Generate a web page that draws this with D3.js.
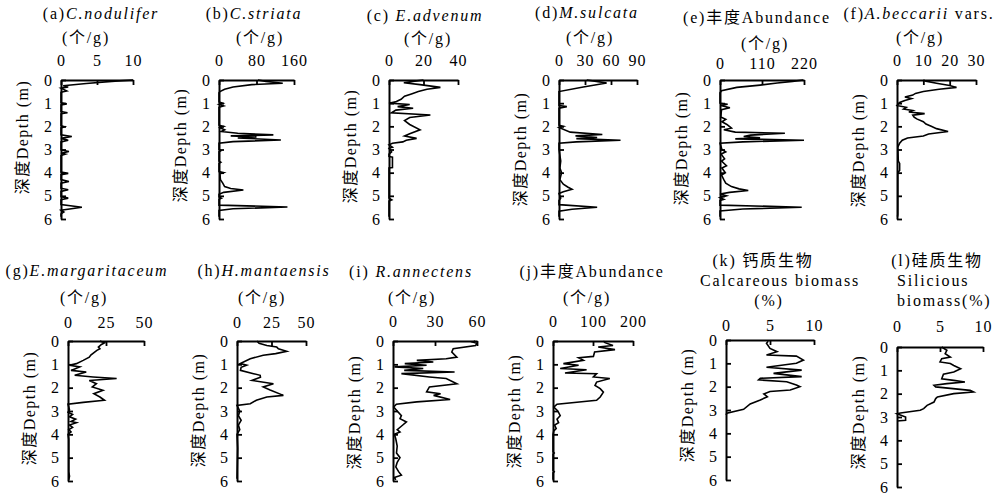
<!DOCTYPE html>
<html>
<head>
<meta charset="utf-8">
<script src="https://cdn.jsdelivr.net/npm/d3@7"></script>
<style>
body { margin: 0; background: #fff; }
</style>
</head>
<body>
<svg width="999" height="497"></svg>
<script>
// depth (m), value
var nodulifer = [[0,10],[0.05,7.5],[0.15,3.5],[0.25,0.3],[0.3,1.0],[0.35,0],[0.47,0.8],[0.53,0],[0.98,0],[1.03,0.8],[1.08,0],[1.36,0],[1.41,0.9],[1.46,0],[1.97,0],[2.02,0.5],[2.07,0],[2.37,0],[2.44,1.5],[2.52,0],[2.6,1.0],[2.67,0],[3.02,0],[3.09,1.1],[3.16,0],[3.2,0.6],[3.26,0],[3.97,0],[4.03,1.0],[4.09,0],[4.3,0],[4.38,1.1],[4.45,0],[4.67,0],[4.74,1.0],[4.81,0],[5.03,0],[5.1,1.0],[5.17,0],[5.38,0],[5.49,2.9],[5.62,0],[5.7,0.4],[5.78,0],[5.9,0]];
var striata = [[0,83],[0.06,100],[0.14,136],[0.2,70],[0.3,30],[0.4,12],[0.5,2],[0.55,0],[0.95,0],[1.0,8],[1.05,0],[1.12,10],[1.18,0],[1.95,0],[2.0,10],[2.06,2],[2.15,12],[2.22,5],[2.3,40],[2.37,116],[2.41,25],[2.46,80],[2.5,40],[2.59,132],[2.66,30],[2.73,0],[3.0,0],[3.05,4],[3.1,0],[3.5,0],[3.55,4],[3.6,0],[3.95,0],[4.0,10],[4.05,2],[4.3,3],[4.45,8],[4.6,12],[4.68,25],[4.75,52],[4.85,10],[4.93,0],[5.05,0],[5.1,5],[5.15,0],[5.4,0],[5.48,146],[5.56,30],[5.63,0],[5.9,0]];
var advenum = [[0,20],[0.05,15],[0.12,8.6],[0.2,18],[0.32,29.8],[0.4,22],[0.5,17],[0.6,13],[0.7,9],[0.83,7],[0.93,4.3],[1.0,0],[1.06,12],[1.15,5],[1.22,14],[1.3,4],[1.42,1.4],[1.51,24],[1.62,12],[1.75,9],[1.92,12],[2.15,18],[2.32,12],[2.42,9],[2.52,16],[2.6,10],[2.67,8],[2.73,2],[2.8,0],[2.9,2],[2.95,0],[3.1,1.5],[3.2,0],[3.3,0],[3.33,2],[3.78,2],[3.8,0],[5.1,0],[5.17,1.6],[5.22,0],[5.9,0]];
var sulcata = [[0,32],[0.07,45],[0.13,55],[0.3,28],[0.5,0],[1.1,0],[1.15,9],[1.22,0],[1.95,0],[2.0,5],[2.05,0],[2.25,13],[2.35,50],[2.41,19],[2.48,44],[2.53,20],[2.6,71],[2.67,20],[2.73,0],[3.0,0],[3.5,2],[3.8,1],[4.0,3],[4.3,1],[4.5,5],[4.62,10],[4.72,15],[4.82,5],[4.9,0],[5.1,2],[5.2,0],[5.38,0],[5.49,44],[5.58,15],[5.66,0],[5.9,0]];
var abundance1 = [[0,218],[0.06,190],[0.13,150],[0.22,105],[0.32,44],[0.46,4],[0.55,0],[1.0,0],[1.05,20],[1.1,2],[1.2,26],[1.28,4],[1.6,2],[1.7,15],[1.8,5],[1.92,18],[2.08,30],[2.15,10],[2.25,40],[2.3,170],[2.38,80],[2.44,62],[2.5,105],[2.54,40],[2.6,220],[2.67,60],[2.73,0],[3.0,5],[3.1,15],[3.2,3],[3.4,12],[3.5,4],[3.7,17],[3.8,5],[4.0,14],[4.1,4],[4.3,10],[4.45,15],[4.6,30],[4.7,50],[4.77,74],[4.85,25],[4.92,0],[5.0,17],[5.08,0],[5.15,10],[5.2,0],[5.4,0],[5.49,214],[5.57,60],[5.65,0],[5.9,0]];
var beccarii = [[0,10],[0.05,11],[0.14,15],[0.24,20],[0.32,22.6],[0.4,16],[0.5,10],[0.58,7],[0.65,6],[0.73,3],[0.8,5.5],[0.88,3],[0.97,1],[1.1,0],[1.18,3.5],[1.25,2.5],[1.32,6],[1.38,4.5],[1.45,10.5],[1.52,6],[1.6,6.5],[1.68,7.5],[1.8,10],[1.9,11],[2.0,13],[2.1,15],[2.22,19.4],[2.33,12],[2.42,10],[2.5,4],[2.6,2],[2.73,1],[2.9,0.3],[3.5,0.5],[3.6,1],[3.9,1],[4.0,0.3],[5.8,0.3],[5.9,0.2]];
var margaritaceum = [[0,21],[0.08,24],[0.15,22],[0.26,20],[0.33,21],[0.4,19],[0.6,15],[0.69,14],[0.83,10],[0.97,5.5],[1.04,1],[1.11,7.7],[1.26,2],[1.33,12],[1.47,4.4],[1.54,16.5],[1.61,32],[1.69,14],[1.83,18.7],[1.97,16],[2.11,23],[2.26,17],[2.4,21],[2.54,24],[2.63,10],[2.71,0],[2.95,1],[3.05,0],[3.15,3],[3.25,1],[3.35,5],[3.45,2],[3.5,5.5],[3.6,1],[3.7,3],[3.8,0.5],[3.9,2],[4.0,0],[4.2,0.5],[5.6,0.5],[5.8,1],[5.95,0.5]];
var mantaensis = [[0,14.4],[0.1,16],[0.19,21.6],[0.26,28.8],[0.33,30],[0.44,36],[0.54,28],[0.61,19],[0.76,9.6],[0.97,2.4],[1.04,7],[1.13,3],[1.26,2.5],[1.4,12],[1.47,16.8],[1.55,17],[1.69,10.8],[1.83,26.4],[1.97,19],[2.1,24],[2.33,33.6],[2.4,21.6],[2.54,14],[2.69,9.6],[2.76,0],[3.0,2],[3.2,1],[3.4,3],[3.6,1],[3.8,2],[4.0,0],[4.6,0.5],[5.9,0]];
var annectens = [[0,58.8],[0.05,57],[0.1,60],[0.19,59],[0.33,43],[0.47,42],[0.69,45.6],[0.76,38],[0.83,17],[0.9,28.8],[0.97,8.4],[1.04,24],[1.11,1],[1.18,21.6],[1.26,8],[1.33,44],[1.4,6],[1.54,26],[1.61,38],[1.83,45.6],[1.97,26],[2.18,24],[2.26,34],[2.33,29],[2.51,40.8],[2.61,17],[2.71,2.4],[2.83,0.5],[3.0,3],[3.2,6],[3.33,5],[3.47,9.6],[3.6,7],[3.8,3],[3.9,5],[4.0,1],[4.2,2],[4.5,3],[4.8,2.5],[5.0,5],[5.2,3],[5.4,2],[5.6,4],[5.75,6],[5.85,1],[5.95,2]];
var abundance2 = [[0,126],[0.07,130],[0.19,150],[0.26,113],[0.37,155],[0.47,104],[0.66,101],[0.72,64],[0.83,76],[0.97,26],[1.04,64],[1.18,18],[1.23,84],[1.37,30],[1.4,109],[1.54,101],[1.61,142],[1.76,109],[1.9,105],[2.04,118],[2.19,126],[2.4,118],[2.54,109],[2.71,10],[2.83,2],[3.0,12],[3.2,18],[3.35,10],[3.5,14],[3.6,4],[3.75,8],[3.85,2],[4.0,0],[4.75,0],[4.8,3],[4.85,0],[5.55,0],[5.6,3],[5.65,0],[5.95,0]];
var calcareous = [[0.05,4.8],[0.14,4.6],[0.36,5],[0.5,5.8],[0.64,4.6],[0.69,8],[0.86,8.8],[1.0,8],[1.17,4.6],[1.29,8.6],[1.43,5.4],[1.57,8.6],[1.64,3.9],[1.71,3.7],[1.79,6.9],[1.93,8],[2.0,8.4],[2.14,7.3],[2.21,5],[2.31,4.3],[2.43,4.7],[2.57,3.9],[2.74,2.75],[2.97,2],[3.14,0.1],[3.21,0]];
var silicious = [[0,5.2],[0.14,5.8],[0.29,5.6],[0.43,6.2],[0.5,5.2],[0.64,5],[0.71,6.2],[0.79,6.6],[0.93,7.4],[1.07,6.6],[1.17,5.4],[1.36,5.2],[1.43,6.6],[1.5,7.9],[1.57,5.8],[1.64,4.3],[1.71,4.5],[1.86,8.5],[1.93,8.9],[2.0,6.6],[2.14,4.7],[2.21,4.5],[2.36,4.3],[2.5,3.5],[2.64,3.1],[2.71,2.7],[2.83,0.4],[2.86,0],[3.0,1],[3.14,1],[3.17,0]];

var depthTicks = [0, 1, 2, 3, 4, 5, 6];
var unit = "(个/g)";
var depthLabel = "深度Depth (m)";
var FONT = "'Liberation Serif', 'DejaVu Serif', 'Noto Sans CJK SC', serif";

var panels = [
  {data: nodulifer, max: 10, ticks: [0,5,10], x0: 61, x1: 133, y0: 80, y1: 219, pad: 14, labY: 137,
   title: [{x: 101, y: 13, t: [["(a)"], ["C.nodulifer", 1]]}, {x: 86, y: 37, t: [[unit]]}]},
  {data: striata, max: 160, ticks: [0,80,160], x0: 219, x1: 294, y0: 80, y1: 219, pad: 14, labY: 145,
   title: [{x: 254, y: 13, t: [["(b)"], ["C.striata", 1]]}, {x: 260, y: 37, t: [[unit]]}]},
  {data: advenum, max: 40, ticks: [0,20,40], x0: 389, x1: 458, y0: 80, y1: 219, pad: 14, labY: 146,
   title: [{x: 425, y: 15, t: [["(c) "], ["E.advenum", 1]]}, {x: 428, y: 38, t: [[unit]]}]},
  {data: sulcata, max: 90, ticks: [0,30,60,90], x0: 559, x1: 637, y0: 80, y1: 219, pad: 14, labY: 149,
   title: [{x: 587, y: 12, t: [["(d)"], ["M.sulcata", 1]]}, {x: 590, y: 37, t: [[unit]]}]},
  {data: abundance1, max: 220, ticks: [0,110,220], x0: 720, x1: 804, y0: 80, y1: 219, pad: 11, labY: 148,
   title: [{x: 757, y: 17, t: [["(e)丰度Abundance"]]}, {x: 765, y: 43, t: [[unit]]}]},
  {data: beccarii, max: 30, ticks: [0,10,20,30], x0: 897, x1: 976, y0: 80, y1: 219, pad: 14, labY: 150,
   title: [{x: 919, y: 13, t: [["(f)"], ["A.beccarii", 1], [" vars."]]}, {x: 920, y: 37, t: [[unit]]}]},
  {data: margaritaceum, max: 50, ticks: [0,25,50], x0: 68, x1: 144, y0: 341, y1: 481, pad: 13, labY: 408,
   title: [{x: 87, y: 270, t: [["(g)"], ["E.margaritaceum", 1]]}, {x: 84, y: 297, t: [[unit]]}]},
  {data: mantaensis, max: 50, ticks: [0,25,50], x0: 237, x1: 306, y0: 341, y1: 481, pad: 13, labY: 410,
   title: [{x: 264, y: 270, t: [["(h)"], ["H.mantaensis", 1]]}, {x: 262, y: 297, t: [[unit]]}]},
  {data: annectens, max: 60, ticks: [0,30,60], x0: 393, x1: 477, y0: 341, y1: 481, pad: 14, labY: 412,
   title: [{x: 411, y: 271, t: [["(i) "], ["R.annectens", 1]]}, {x: 412, y: 297, t: [[unit]]}]},
  {data: abundance2, max: 200, ticks: [0,100,200], x0: 553, x1: 633, y0: 341, y1: 481, pad: 14, labY: 411,
   title: [{x: 592, y: 271, t: [["(j)丰度Abundance"]]}, {x: 587, y: 297, t: [[unit]]}]},
  {data: calcareous, max: 10, ticks: [0,5,10], x0: 726, x1: 814, y0: 340, y1: 480, pad: 9, labY: 405,
   title: [{x: 763, y: 260, t: [["(k) 钙质生物"]]}, {x: 780, y: 280, t: [["Calcareous biomass"]]}, {x: 769, y: 300, t: [["(%)"]]}]},
  {data: silicious, max: 10, ticks: [0,5,10], x0: 897, x1: 983, y0: 347, y1: 487, pad: 15, labY: 412,
   title: [{x: 937, y: 260, t: [["(l)硅质生物"]]}, {x: 897, y: 280, a: "start", t: [["Silicious"]]}, {x: 897, y: 300, a: "start", t: [["biomass(%)"]]}]}
];

var svg = d3.select("svg");

panels.forEach(function(p) {
  var x = d3.scaleLinear().domain([0, p.max]).range([p.x0, p.x1]);
  var y = d3.scaleLinear().domain([0, 6]).range([p.y0, p.y1]);
  var g = svg.append("g");

  g.append("path")
    .datum(p.data)
    .attr("fill", "none")
    .attr("stroke", "#000")
    .attr("stroke-width", 1.6)
    .attr("d", d3.line().x(function(d) { return x(d[1]); }).y(function(d) { return y(d[0]); }));

  var xa = g.append("g")
    .attr("transform", "translate(0," + p.y0 + ")")
    .call(d3.axisTop(x).tickValues(p.ticks).tickFormat(d3.format("d"))
      .tickSizeInner(-5).tickSizeOuter(0).tickPadding(p.pad));
  var ya = g.append("g")
    .attr("transform", "translate(" + p.x0 + ",0)")
    .call(d3.axisLeft(y).tickValues(depthTicks).tickFormat(d3.format("d"))
      .tickSizeInner(-5).tickSizeOuter(0).tickPadding(8));

  [xa, ya].forEach(function(a) {
    a.attr("font-family", FONT).attr("font-size", 16);
    a.select(".domain").attr("stroke-width", 2);
    a.selectAll(".tick line").attr("stroke-width", 1.8);
    a.selectAll("text").style("font-family", FONT).style("font-size", "16px").style("letter-spacing", "1px");
  });

  g.append("text")
    .attr("transform", "translate(" + (p.x0 - 39) + "," + p.labY + ") rotate(-90)")
    .attr("text-anchor", "middle")
    .attr("dy", "0.35em")
    .style("font-family", FONT)
    .style("font-size", "16px")
    .style("letter-spacing", "1.5px")
    .text(depthLabel);

  p.title.forEach(function(l) {
    var t = g.append("text")
      .attr("x", l.x)
      .attr("y", l.y)
      .attr("dy", "0.35em")
      .attr("text-anchor", l.a || "middle")
      .style("font-family", FONT)
      .style("font-size", "16px")
      .style("letter-spacing", "1.8px");
    l.t.forEach(function(s) {
      t.append("tspan").style("font-style", s[1] ? "italic" : null).text(s[0]);
    });
  });
});
</script>
</body>
</html>
